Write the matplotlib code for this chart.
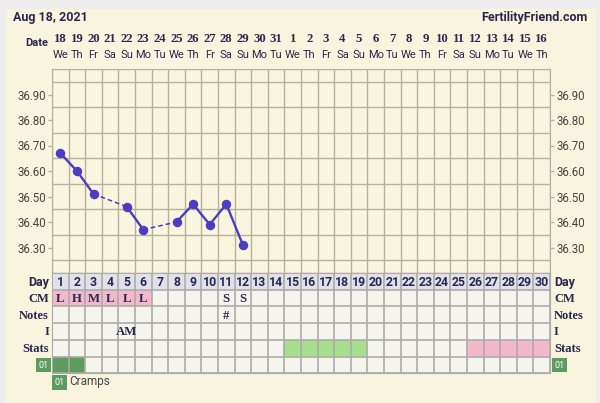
import numpy as np
import matplotlib
matplotlib.use("Agg")
import matplotlib.pyplot as plt
from matplotlib.patches import Rectangle
from matplotlib.transforms import blended_transform_factory

# chart data
cycle_days = list(range(1, 31))
date_nums = ["18", "19", "20", "21", "22", "23", "24", "25", "26", "27", "28", "29", "30", "31",
             "1", "2", "3", "4", "5", "6", "7", "8", "9", "10", "11", "12", "13", "14", "15", "16"]
weekdays = ["We", "Th", "Fr", "Sa", "Su", "Mo", "Tu", "We", "Th", "Fr", "Sa", "Su", "Mo", "Tu", "We",
            "Th", "Fr", "Sa", "Su", "Mo", "Tu", "We", "Th", "Fr", "Sa", "Su", "Mo", "Tu", "We", "Th"]
temp_days = [1, 2, 3, 5, 6, 8, 9, 10, 11, 12]
temps = [36.67, 36.60, 36.51, 36.46, 36.37, 36.40, 36.47, 36.39, 36.47, 36.31]
temp_ticks = [36.30, 36.40, 36.50, 36.60, 36.70, 36.80, 36.90]

cm_days = [1, 2, 3, 4, 5, 6, 11, 12]
cm_codes = ["L", "H", "M", "L", "L", "L", "S", "S"]
cm_pink_days = [1, 2, 3, 4, 5, 6]
note_days = [11]
note_marks = ["#"]
i_days = [5]
i_marks = ["AM"]
stats_green_days = [15, 16, 17, 18, 19]
stats_pink_days = [26, 27, 28, 29, 30]
cramp_days = [1, 2]
row_labels = ["Day", "CM", "Notes", "I", "Stats"]

W, H = 600, 403
NAVY = "#2A2850"
GRID = "#B4B19E"
LINE = "#4B3CC2"
DKGREEN = "#5D9C5D"


def fr(x0, y0, x1, y1):
    return [x0 / W, 1 - y1 / H, (x1 - x0) / W, (y1 - y0) / H]


def box(x0, y0, x1, y1, color, z=1):
    fig.add_artist(Rectangle((x0 / W, 1 - y1 / H), (x1 - x0) / W, (y1 - y0) / H,
                             transform=fig.transFigure, color=color, lw=0, zorder=z))


fig = plt.figure(figsize=(6, 4.03), dpi=100, facecolor="#EDEDED")
box(6, 9, 596, 403, "#F8F4DD", z=-5)

fig.text(13 / W, 1 - 17.5 / H, "Aug 18, 2021", family="Roboto", weight="bold",
         fontsize=9, color=NAVY, ha="left", va="center")
fig.text(588 / W, 1 - 17.5 / H, "FertilityFriend.com", family="Roboto", weight="bold",
         fontsize=9, color=NAVY, ha="right", va="center")

# temperature grid
ax = fig.add_axes(fr(52, 69, 550, 273))
ax.set_facecolor("#F9F5DE")
ax.set_xlim(0.5, 30.5)
ax.set_ylim(36.20, 37.00)
ax.set_xticks(np.arange(0.5, 31, 1), minor=True)
ax.set_xticks([])
ax.set_yticks(temp_ticks)
ax.set_yticks(np.arange(36.20, 37.001, 0.05), minor=True)
ax.set_yticklabels([f"{t:.2f}" for t in temp_ticks])
ax.grid(which="minor", color=GRID, lw=1)
ax.tick_params(axis="y", which="major", left=True, right=True, labelleft=True, labelright=True,
               length=3, width=1, color=GRID, pad=1.5, labelsize=8.3, labelcolor="#454545")
ax.tick_params(axis="y", which="minor", length=0)
ax.tick_params(axis="x", which="both", length=0)
for lab in ax.get_yticklabels():
    lab.set_family("Roboto")
for s in ax.spines.values():
    s.set_color(GRID)

for i in range(len(temp_days) - 1):
    d0, d1 = temp_days[i], temp_days[i + 1]
    ls = "-" if d1 - d0 == 1 else (0, (3, 2))
    lw = 1.7 if d1 - d0 == 1 else 1.1
    ax.plot([d0, d1], [temps[i], temps[i + 1]], color=LINE, lw=lw, ls=ls, zorder=3)
ax.plot(temp_days, temps, "o", color=LINE, ms=5.8, zorder=4)

# dates across the top
tx = blended_transform_factory(ax.transData, fig.transFigure)
for d, n, w in zip(cycle_days, date_nums, weekdays):
    ax.text(d, 1 - 39 / H, n, transform=tx, ha="center", va="center", family="Liberation Serif",
            weight="bold", fontsize=9.2, color=NAVY, clip_on=False)
    ax.text(d, 1 - 55 / H, w, transform=tx, ha="center", va="center", family="Roboto",
            fontsize=8, color=NAVY, clip_on=False)
fig.text(48 / W, 1 - 43 / H, "Date", family="Roboto", weight="bold", fontsize=8,
         color=NAVY, ha="right", va="center")

# table under the chart
tax = fig.add_axes(fr(52, 273, 550, 373.3))
tax.set_facecolor("#F5F5EE")
tax.set_xlim(0.5, 30.5)
tax.set_ylim(6, 0)
tax.bar(cycle_days, 1, bottom=0, width=1, color="#E1E1E9", lw=0)
tax.bar(cm_pink_days, 1, bottom=1, width=1, color="#F4B8CC", lw=0)
tax.bar(stats_green_days, 1, bottom=4, width=1, color="#A6E08C", lw=0)
tax.bar(stats_pink_days, 1, bottom=4, width=1, color="#F4B8CC", lw=0)
tax.bar(cramp_days, 1, bottom=5, width=1, color=DKGREEN, lw=0)
tax.set_xticks(np.arange(0.5, 31, 1), minor=True)
tax.set_yticks(np.arange(0, 7, 1), minor=True)
tax.set_xticks([])
tax.set_yticks([])
tax.tick_params(which="both", length=0)
tax.set_axisbelow(False)
tax.grid(which="minor", color="#ABABAB", lw=1.2)
for s in tax.spines.values():
    s.set_color("#ABABAB")

for d in cycle_days:
    tax.text(d, 0.55, str(d), ha="center", va="center", family="Roboto", weight="bold",
             fontsize=8.8, color=NAVY)
for d, c in zip(cm_days, cm_codes):
    tax.text(d, 1.55, c, ha="center", va="center", family="Liberation Serif", weight="bold",
             fontsize=9.2, color=NAVY)
for d, c in zip(note_days, note_marks):
    tax.text(d, 2.55, c, ha="center", va="center", family="Liberation Serif", weight="bold",
             fontsize=9.2, color=NAVY)
for d, c in zip(i_days, i_marks):
    tax.text(d, 3.55, c, ha="center", va="center", family="Liberation Serif", weight="bold",
             fontsize=9.2, color=NAVY)

ty = blended_transform_factory(tax.transAxes, tax.transData)
for r, lab in enumerate(row_labels):
    fam = "Roboto" if lab == "Day" else "Liberation Serif"
    tax.text(-0.006, r + 0.55, lab, transform=ty, ha="right", va="center", family=fam,
             weight="bold", fontsize=9, color=NAVY)
    tax.text(1.008, r + 0.55, lab, transform=ty, ha="left", va="center", family=fam,
             weight="bold", fontsize=9, color=NAVY)

# "01" symptom tags
for x0 in (36, 552):
    box(x0, 357.5, x0 + 14.5, 372, DKGREEN)
    fig.text((x0 + 7.25) / W, 1 - 365 / H, "01", family="Roboto", fontsize=6.5,
             color="white", ha="center", va="center")
box(52, 375, 67, 390, DKGREEN)
fig.text(59.5 / W, 1 - 382.5 / H, "01", family="Roboto", fontsize=6.5,
         color="white", ha="center", va="center")
fig.text(69 / W, 1 - 382 / H, "Cramps", family="Roboto", fontsize=8.5,
         color="#454545", ha="left", va="center")

fig.savefig("out.png", dpi=100, facecolor=fig.get_facecolor())
